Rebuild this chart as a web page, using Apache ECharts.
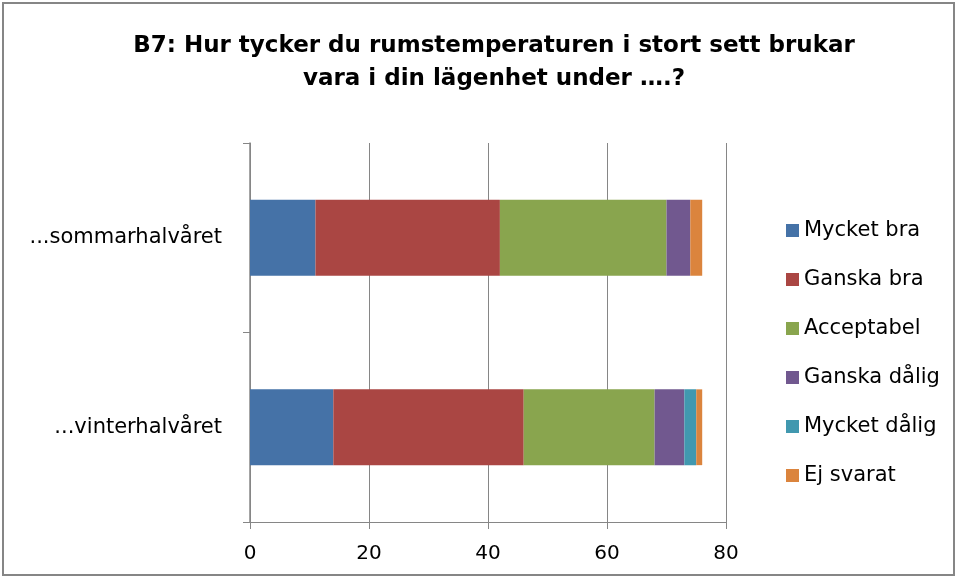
<!DOCTYPE html>
<html>
<head>
<meta charset="utf-8">
<script src="https://cdn.jsdelivr.net/npm/echarts@6/dist/echarts.min.js"></script>
<style>
  html, body { margin: 0; padding: 0; background: #fff; }
  #chart { width: 958px; height: 579px; }
</style>
</head>
<body>
<div id="chart"></div>
<script>
const categories = ['...sommarhalvåret', '...vinterhalvåret']
const seriesNames = ['Mycket bra', 'Ganska bra', 'Acceptabel', 'Ganska dålig', 'Mycket dålig', 'Ej svarat']
const mycketBra = [11, 14]
const ganskaBra = [31, 32]
const acceptabel = [28, 22]
const ganskaDalig = [4, 5]
const mycketDalig = [0, 2]
const ejSvarat = [2, 1]
const xTicks = [0, 20, 40, 60, 80]

const colors = ['#4572A7', '#AA4643', '#89A54E', '#71588F', '#4198AF', '#DB843D']
const values = [mycketBra, ganskaBra, acceptabel, ganskaDalig, mycketDalig, ejSvarat]
const font = '"DejaVu Sans", sans-serif'
const axisGray = '#868686'

const chart = echarts.init(document.getElementById('chart'))
chart.setOption({
  animation: false,
  color: colors,
  textStyle: { fontFamily: font },
  title: {
    text: 'B7: Hur tycker du rumstemperaturen i stort sett brukar\nvara i din lägenhet under ….?',
    left: 489,
    textAlign: 'center',
    top: 25,
    textStyle: { fontFamily: font, fontSize: 23, fontWeight: 'bold', color: '#000', lineHeight: 33 },
  },
  graphic: [{
    type: 'rect',
    shape: { x: 3, y: 3, width: 951, height: 572 },
    style: { fill: 'none', stroke: axisGray, lineWidth: 2 },
    silent: true,
  }],
  legend: {
    orient: 'vertical',
    left: 781,
    top: 215,
    itemWidth: 13,
    itemHeight: 13,
    itemGap: 28,
    icon: 'rect',
    data: seriesNames,
    textStyle: { fontFamily: font, fontSize: 21, color: '#000', lineHeight: 20 },
  },
  grid: { left: 250, right: 232, top: 143, bottom: 57, containLabel: false },
  xAxis: {
    type: 'value',
    min: xTicks[0],
    max: xTicks[xTicks.length - 1],
    interval: 20,
    axisLine: { show: true, lineStyle: { color: axisGray, width: 1 } },
    axisTick: { show: true, length: 7, lineStyle: { color: axisGray } },
    axisLabel: { color: '#000', fontSize: 20, fontFamily: font, margin: 22 },
    splitLine: { show: true, lineStyle: { color: axisGray, width: 1 } },
  },
  yAxis: {
    type: 'category',
    inverse: true,
    data: categories,
    axisLine: { show: true, lineStyle: { color: axisGray, width: 1.5 } },
    axisTick: { show: true, length: 7, lineStyle: { color: axisGray } },
    axisLabel: { color: '#000', fontSize: 21, fontFamily: font, margin: 28 },
  },
  series: seriesNames.map((name, i) => ({
    name,
    type: 'bar',
    stack: 'total',
    data: values[i],
    barCategoryGap: '60%',
    itemStyle: { color: colors[i] },
  })),
})
</script>
</body>
</html>
